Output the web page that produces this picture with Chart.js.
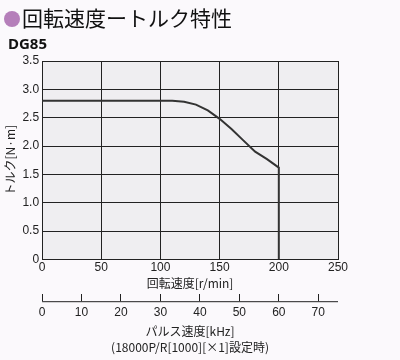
<!DOCTYPE html>
<html>
<head>
<meta charset="utf-8">
<script src="https://cdn.jsdelivr.net/npm/chart.js@4"></script>
<style>
  body { margin: 0; background: #fbf9fc; }
  #wrap { position: relative; width: 400px; height: 360px; }
  #heading { position: absolute; left: 4px; top: 3px; font: 21px "Noto Sans CJK JP", sans-serif; color: #111; line-height: 28px; }
  #heading .dot { display: inline-block; width: 16px; height: 16px; border-radius: 50%; background: #b57fba; vertical-align: -1px; margin-right: 2px; }
  #model { position: absolute; left: 8px; top: 33px; font: bold 15px "Noto Sans", sans-serif; color: #111; }
  canvas { position: absolute; left: 0; top: 0; }
</style>
</head>
<body>
<div id="wrap">
  <canvas id="torqueChart" width="400" height="360"></canvas>
  <div id="heading"><span class="dot"></span>回転速度ートルク特性</div>
  <div id="model">DG85</div>
</div>
<script>
// speed [r/min] vs torque [N·m]
const speeds  = [0,   110, 120,  130,  140,  150,  160, 170, 180, 190,  200,  200];
const torques = [2.8, 2.8, 2.78, 2.73, 2.63, 2.48, 2.3, 2.1, 1.9, 1.77, 1.62, 0];

const speedRange = [0, 250];
const pulseRange = [0, 75];
const pulseTicks = [0, 10, 20, 30, 40, 50, 60, 70];
const torqueRange = [0, 3.5];

const fontNum = '"Liberation Sans", "Noto Sans CJK JP", sans-serif';
const fontJp = '"Noto Sans CJK JP", sans-serif';

// plot area background
const plotBg = {
  id: 'plotBg',
  beforeDraw(chart) {
    const { ctx, chartArea: a } = chart;
    ctx.save();
    ctx.fillStyle = '#efeef1';
    ctx.fillRect(a.left, a.top, a.right - a.left, a.bottom - a.top);
    ctx.restore();
  }
};

// baseline under the pulse axis ticks (ticks point up from it)
const pulseLine = {
  id: 'pulseLine',
  afterDraw(chart) {
    const s = chart.scales.x2;
    const y = s.top + 7;
    const ctx = chart.ctx;
    ctx.save();
    ctx.strokeStyle = '#222';
    ctx.lineWidth = 1;
    ctx.beginPath();
    ctx.moveTo(s.getPixelForValue(pulseRange[0]), y + 0.5);
    ctx.lineTo(s.getPixelForValue(pulseRange[1]), y + 0.5);
    ctx.stroke();
    ctx.restore();
  }
};

new Chart(document.getElementById('torqueChart'), {
  type: 'line',
  data: {
    datasets: [{
      data: speeds.map((s, i) => ({ x: s, y: torques[i] })),
      borderColor: '#333',
      borderWidth: 2,
      pointRadius: 0,
      tension: 0,
      fill: false
    }]
  },
  options: {
    responsive: false,
    animation: false,
    layout: { padding: { left: 3, right: 62, top: 61, bottom: 4 } },
    plugins: { legend: { display: false }, tooltip: { enabled: false } },
    scales: {
      x: {
        type: 'linear',
        position: 'bottom',
        min: speedRange[0], max: speedRange[1],
        ticks: { stepSize: 50, color: '#222', font: { family: fontNum, size: 12 }, padding: 1, maxRotation: 0 },
        grid: { color: '#222', lineWidth: 1, tickLength: 0 },
        border: { color: '#222' },
        title: { display: true, text: '回転速度[r/min]', color: '#222', font: { family: fontJp, size: 12 }, padding: { top: 0, bottom: 4 } }
      },
      x2: {
        type: 'linear',
        position: 'bottom',
        min: pulseRange[0], max: pulseRange[1],
        afterBuildTicks: s => { s.ticks = pulseTicks.map(v => ({ value: v })); },
        ticks: { autoSkip: false, color: '#222', font: { family: fontNum, size: 12 }, padding: 4, maxRotation: 0 },
        grid: { drawOnChartArea: false, color: '#222', tickLength: 7 },
        border: { display: false },
        title: { display: true, text: ['パルス速度[kHz]', '(18000P/R[1000][×1]設定時)'], color: '#222', font: { family: fontJp, size: 12, lineHeight: 1.35 }, padding: { top: 0, bottom: 0 } }
      },
      y: {
        min: torqueRange[0], max: torqueRange[1],
        ticks: { stepSize: 0.5, color: '#222', font: { family: fontNum, size: 12 }, padding: 3,
          callback: v => v === 0 ? '0' : v.toFixed(1) },
        grid: { color: '#222', lineWidth: 1, tickLength: 0 },
        border: { color: '#222' },
        title: { display: true, text: 'トルク[N·m]', color: '#222', font: { family: fontJp, size: 12 }, padding: { top: 0, bottom: 2 } }
      }
    }
  },
  plugins: [plotBg, pulseLine]
});
</script>
</body>
</html>
